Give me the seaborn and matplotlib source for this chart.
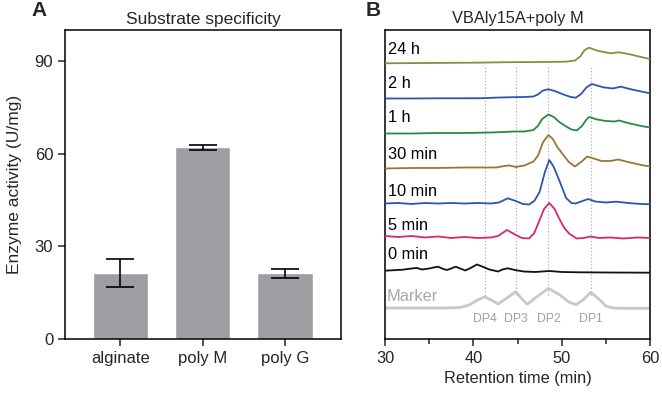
import numpy as np
import pandas as pd
import matplotlib
matplotlib.use("Agg")
import matplotlib.pyplot as plt
import seaborn as sns

sns.set_theme(style="ticks")
plt.rcParams["font.family"] = ["Liberation Sans", "DejaVu Sans"]
plt.rcParams.update({"axes.linewidth": 1.1, "xtick.major.width": 1.1,
                     "ytick.major.width": 1.1, "xtick.minor.width": 1.1,
                     "xtick.major.size": 5, "ytick.major.size": 5,
                     "xtick.minor.size": 3.5})

# ---- panel A: substrate specificity ----
substrates = ["alginate", "poly M", "poly G"]
activity = [21.3, 62.0, 21.3]
activity_err = [4.6, 0.7, 1.4]

# ---- panel B: HPLC traces (retention time, signal with vertical offset) ----
marker_t = [30, 37, 38.5, 39.5, 40.5, 41.3, 42.0, 42.8, 43.8, 44.8, 45.5, 46.1, 47.0,
            48.5, 49.8, 50.8, 51.6, 52.4, 53.3, 54.2, 55.0, 55.8, 57, 60]
marker_y = [31, 31, 31.5, 34, 39, 42.3, 39, 35, 41, 47.3, 40, 34.7, 41,
            50.7, 44, 37, 34.3, 39, 46.7, 40, 33, 31, 30.7, 30.7]

min0_t = [30.0, 31, 32, 33, 33.6, 34.2, 35.0, 35.5, 36.0, 36.6, 37.0, 37.5, 38.0, 38.5,
          39.1, 39.8, 40.4, 41.0, 41.8, 42.8, 43.3, 43.9, 44.7, 45.7, 47, 48.6, 50, 52, 55, 60]
min0_y = [68.3, 68.8, 69.3, 70.5, 71, 69.5, 70.5, 71.5, 72.3, 70, 69, 70.5, 72.3, 70.5,
          68.5, 71.5, 74.5, 72.5, 69.5, 67.5, 69.5, 70.7, 69, 67.5, 67, 68, 67, 66.7, 66.5, 66.3]

min5_t = [30, 31.5, 33, 34.5, 36, 37.5, 39, 40.5, 42, 42.8, 43.8, 44.6, 45.5, 46.3, 46.9,
          47.5, 48.0, 48.6, 49.2, 49.8, 50.3, 50.9, 51.7, 52.5, 53.3, 54.2, 55.5, 57, 58.5, 60]
min5_y = [103, 102, 103, 101.5, 102.5, 101, 102, 101, 101.5, 103, 109, 105, 101, 100.5, 106,
          119, 130, 136, 130, 119, 111, 105, 100.5, 101, 102.5, 101, 101.5, 100.5, 101.5, 101]

min10_t = [30, 31.5, 33, 34.5, 36, 37.5, 39, 40.5, 42, 42.9, 43.9, 44.8, 45.6, 46.3, 46.9,
           47.5, 48.1, 48.6, 49.1, 49.8, 50.5, 51.1, 51.6, 52.2, 53.0, 53.8, 55, 56.2, 57.5, 59, 60]
min10_y = [135.5, 136, 135, 136, 135.5, 136, 135.5, 136, 135.5, 136.5, 140.7, 138, 135, 134.5, 138,
           147, 167, 179, 172, 157, 141, 136, 135.5, 137.5, 140, 137.5, 136.5, 137.3, 136, 135, 134.7]

min30_t = [30, 33, 36, 39, 41, 42.6, 43.5, 44.1, 44.8, 45.8, 46.8, 47.3, 47.9, 48.5, 49.0,
           49.5, 50.2, 50.8, 51.5, 52.2, 52.9, 53.8, 54.5, 55.5, 56.4, 57.5, 59, 60]
min30_y = [170.5, 171, 171, 171.5, 171.5, 171.5, 173, 173.5, 172, 173.5, 177.5, 183, 197, 204, 200,
           192, 184, 177, 172.5, 177, 182.5, 180, 178, 178, 179.5, 177, 174, 172.5]

h1_t = [30, 33, 36, 39, 42, 43.5, 44.7, 45.8, 46.8, 47.3, 47.8, 48.5, 49.1, 49.8, 50.6,
        51.1, 51.7, 52.3, 52.8, 53.1, 54.0, 55.0, 56.0, 56.5, 57.5, 59, 60]
h1_y = [205.5, 205.5, 206, 206, 206.5, 207, 207.5, 207.5, 209, 213, 220, 224.5, 222, 216.5, 212,
        209.5, 208.5, 213, 219.5, 222, 219.5, 218, 217.5, 218.5, 216, 213, 211.5]

h2_t = [30, 33, 36, 39, 41, 43, 44.5, 45.8, 46.8, 47.3, 47.9, 48.5, 49.2, 50.2, 51.0,
        51.6, 52.2, 52.8, 53.4, 54.0, 54.7, 55.8, 56.7, 57.7, 59, 60]
h2_y = [240.5, 240.5, 240.7, 240.7, 240.8, 241.5, 241.8, 242, 242.5, 244.5, 248.5, 249.7, 248, 244.5, 242,
        241.3, 245, 251.5, 255, 253.5, 251.7, 250.5, 252.3, 250, 247.5, 245.7]

h24_t = [30, 35, 40, 44, 48, 50.5, 51.5, 52.1, 52.6, 53.1, 54.0, 55.5, 56.5, 57.7, 59, 60]
h24_y = [275.7, 276, 276.3, 276.8, 277, 277.3, 278.5, 282.5, 289, 291.3, 288.3, 285.7,
         286.7, 284.7, 282, 280]

dp_names = ["DP4", "DP3", "DP2", "DP1"]
dp_times = [41.3, 44.8, 48.5, 53.3]

traces = [
    ("24 h", h24_t, h24_y, "#8e8a3e", 289),
    ("2 h", h2_t, h2_y, "#2c57a8", 255),
    ("1 h", h1_t, h1_y, "#2a8a42", 221),
    ("30 min", min30_t, min30_y, "#9a7634", 184),
    ("10 min", min10_t, min10_y, "#2c57a8", 147),
    ("5 min", min5_t, min5_y, "#d6286b", 113),
    ("0 min", min0_t, min0_y, "#111111", 84),
]

fig = plt.figure(figsize=(6.62, 3.94), dpi=100)
axA = fig.add_axes([0.0982, 0.1396, 0.4169, 0.7843])
axB = fig.add_axes([0.5816, 0.1396, 0.4003, 0.7843])

# ---- A ----
dfA = pd.DataFrame({"substrate": substrates, "activity": activity})
sns.barplot(data=dfA, x="substrate", y="activity", color="#9e9ea2",
            saturation=1, width=0.67, errorbar=None, ax=axA)
axA.errorbar(np.arange(len(substrates)), activity, yerr=activity_err, fmt="none",
             ecolor="black", elinewidth=1.2, capsize=10, capthick=1.2)
axA.set_xlim(-0.67, 2.68)
axA.set_ylim(0, 100)
axA.set_yticks([0, 30, 60, 90])
axA.set_xlabel("")
axA.set_ylabel("Enzyme activity (U/mg)", fontsize=12.5, labelpad=9)
axA.set_title("Substrate specificity", fontsize=12.5, pad=4)
axA.tick_params(axis="both", labelsize=12, direction="out")
axA.tick_params(top=False, right=False)
for s in axA.spines.values():
    s.set_visible(True)
    s.set_color("black")

# ---- B ----
for t in dp_times:
    axB.plot([t, t], [44, 274], ls=(0, (1, 2)), color="#a8a8a8", lw=0.8, zorder=1)

sns.lineplot(x=marker_t, y=marker_y, color="#c8c8c8", lw=2.0, ax=axB, zorder=2)
axB.text(30.2, 42, "Marker", color="#a8a8a8", fontsize=11.8, va="center", ha="left")
for name, t, y, c, ly in traces:
    sns.lineplot(x=t, y=y, color=c, lw=1.3, ax=axB, zorder=3)
    axB.text(30.3, ly, name, color="black", fontsize=11.8, va="center", ha="left")
for n, t in zip(dp_names, dp_times):
    axB.text(t, 20, n, color="#a0a0a0", fontsize=8.8, ha="center", va="center")

axB.set_xlim(30, 60)
axB.set_ylim(0, 309)
axB.set_xticks([30, 40, 50, 60])
axB.set_xticks([35, 45, 55], minor=True)
axB.set_yticks([])
axB.set_xlabel("Retention time (min)", fontsize=11.8)
axB.set_ylabel("")
axB.set_title("VBAly15A+poly M", fontsize=11.8, pad=5)
axB.tick_params(axis="x", which="both", labelsize=11.8, direction="out")
for s in axB.spines.values():
    s.set_visible(True)
    s.set_color("black")

fig.text(0.047, 0.997, "A", fontsize=15, fontweight="bold", va="top")
fig.text(0.553, 0.997, "B", fontsize=15, fontweight="bold", va="top")

fig.savefig("out.png", dpi=100)
